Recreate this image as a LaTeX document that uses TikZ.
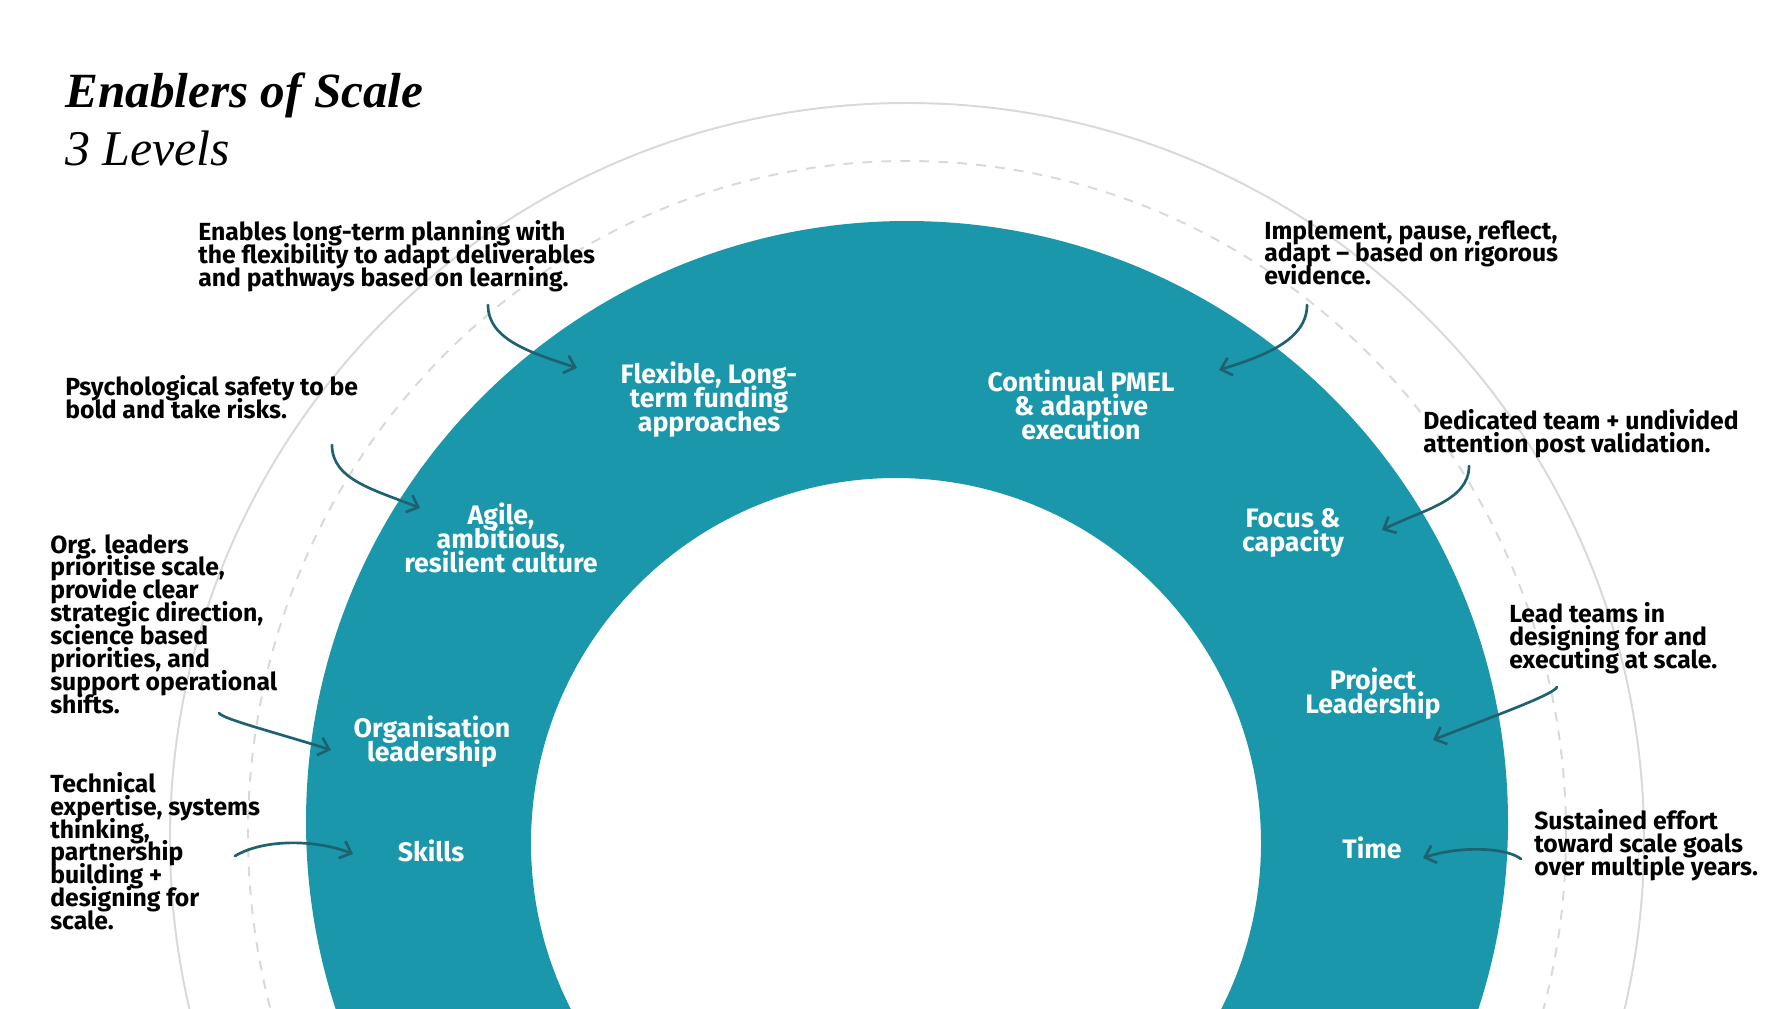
\documentclass[tikz,border=0pt]{standalone}
\usepackage{fontspec}
\setmainfont{Fira Sans}
\newfontfamily\titlefont{Liberation Serif}
\usetikzlibrary{arrows.meta}

\definecolor{ringteal}{HTML}{1B97AB}
\definecolor{arrowteal}{HTML}{1E6170}
\definecolor{ringgray}{HTML}{D9D9D9}

% tight leading: keep the baselines fixed even where lines touch
\newcommand\notefont{\fontsize{17.6}{16.26}\selectfont\bfseries\lineskiplimit=-20pt}
\newcommand\lblfont{\fontsize{19}{17}\selectfont\bfseries\lineskiplimit=-20pt}

\begin{document}
\begin{tikzpicture}[x=0.025cm,y=-0.025cm,
    note/.style={font=\notefont, align=left, anchor=north west, inner sep=0pt},
    lbl/.style={font=\lblfont, text=white, align=center, anchor=north, inner sep=0pt},
    arr/.style={draw=arrowteal, line width=1.9pt, line cap=round,
                -{Straight Barb[length=7pt,width=13pt]}}]
    \useasboundingbox (0,0) rectangle (1792,1008);
    % Rings, cut off at the lower edge
    \begin{scope}
      \clip (0,0) rectangle (1792,1008);
      \draw[ringgray, line width=1.4pt] (907,840) circle[radius=737];
      \draw[ringgray, line width=1.4pt, dash pattern=on 7pt off 6.5pt]
        (907,834) ellipse[x radius=659, y radius=673];
      \fill[ringteal, even odd rule] (907,822) circle[radius=601]
        (896,843) circle[radius=365];
    \end{scope}
    % Title
    \node[anchor=base west, inner sep=0pt,
          font=\titlefont\fontsize{35}{40}\selectfont\bfseries\itshape] (title) at (65,107) {Enablers of Scale};
    \node[anchor=base west, inner sep=0pt,
          font=\titlefont\fontsize{35.5}{40}\selectfont\itshape] (levels) at (65,165) {3 Levels};
    % Enablers on the band
    \node[lbl] (funding) at (709,362) {Flexible, Long-\\term funding\\approaches};
    \node[lbl] (pmel) at (1081,370) {Continual PMEL\\\& adaptive\\execution};
    \node[lbl] (culture) at (501,503) {Agile,\\ambitious,\\resilient culture};
    \node[lbl] (focus) at (1293,508) {Focus \&\\capacity};
    \node[lbl] (orglead) at (432,716) {Organisation\\leadership};
    \node[lbl, anchor=base] (skills) at (431,861) {Skills};
    \node[lbl] (projlead) at (1373,668) {Project\\Leadership};
    \node[lbl, anchor=base] (time) at (1372,858) {Time};
    % Notes
    \node[note] (nfunding) at (198,220) {Enables long-term planning with\\the flexibility to adapt deliverables\\and pathways based on learning.};
    \node[note] (nculture) at (65,375) {Psychological safety to be\\bold and take risks.};
    \node[note] (norglead) at (50,534) {Org. leaders\\prioritise scale,\\provide clear\\strategic direction,\\science based\\priorities, and\\support operational\\shifts.};
    \node[note] (nskills) at (50,772) {Technical\\expertise, systems\\thinking,\\partnership\\building +\\designing for\\scale.};
    \node[note] (npmel) at (1264,220) {Implement, pause, reflect,\\adapt – based on rigorous\\evidence.};
    \node[note] (nfocus) at (1423,409) {Dedicated team + undivided\\attention post validation.};
    \node[note] (nprojlead) at (1509,602) {Lead teams in\\designing for and\\executing at scale.};
    \node[note] (ntime) at (1534,809) {Sustained effort\\toward scale goals\\over multiple years.};
    % Arrow ends
    \coordinate (t1) at (488,305); \coordinate (h1) at (577,368);
    \coordinate (t2) at (332,445); \coordinate (h2) at (420,508);
    \coordinate (t3) at (219,713); \coordinate (h3) at (331,750);
    \coordinate (t4) at (235,856); \coordinate (h4) at (353,854);
    \coordinate (t5) at (1307,305); \coordinate (h5) at (1219,370);
    \coordinate (t6) at (1469,466); \coordinate (h6) at (1382,530);
    \coordinate (t7) at (1557,687); \coordinate (h7) at (1433,740);
    \coordinate (t8) at (1521,859); \coordinate (h8) at (1423,858);
    % Arrows from notes to enablers
    \draw[arr] (t1) .. controls +(0,35) and +(-45,-15) .. (h1);
    \draw[arr] (t2) .. controls +(0,35) and +(-45,-18) .. (h2);
    \draw[arr] (t3) .. controls +(3,6) and +(-50,-16) .. (h3);
    \draw[arr] (t4) .. controls +(30,-18) and +(-35,-14) .. (h4);
    \draw[arr] (t5) .. controls +(0,35) and +(45,-14) .. (h5);
    \draw[arr] (t6) .. controls +(0,35) and +(40,-20) .. (h6);
    \draw[arr] (t7) .. controls +(-3,8) and +(50,-20) .. (h7);
    \draw[arr] (t8) .. controls +(-15,-12) and +(35,-12) .. (h8);
\end{tikzpicture}
\end{document}
